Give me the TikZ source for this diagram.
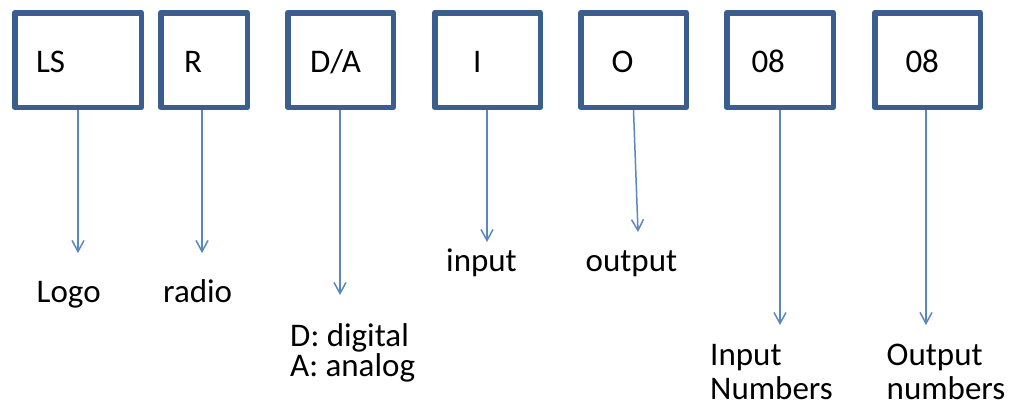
\documentclass[tikz,border=0pt]{standalone}
\usepackage{fontspec}
\setmainfont{Carlito}
\usetikzlibrary{arrows.meta}
\definecolor{boxblue}{HTML}{3A5F8E}
\definecolor{linkblue}{HTML}{5B87C0}
\begin{document}
\begin{tikzpicture}[x=1pt,y=-1pt,
  box/.style={draw=boxblue, line width=5.5pt, line join=round, rectangle, minimum height=94.5pt,
    inner xsep=0pt, inner ysep=0pt, align=left, text height=24.5pt, text depth=0pt,
    font=\fontsize{33}{36}\selectfont},
  conn/.style={draw=linkblue, line width=1.5pt, -{Straight Barb[length=11pt,width=12pt]}},
  lab/.style={anchor=base west, inner sep=0pt, align=left, font=\fontsize{33}{34}\selectfont}]
\useasboundingbox[fill=white] (0,0) rectangle (1011,408);
% boxes
\node[box, minimum width=126.5pt, text width=84pt] (bLS) at (78,60) {LS};
\node[box, minimum width=86.5pt, text width=40pt] (bR) at (204,60) {R};
\node[box, minimum width=105.5pt, text width=61pt] (bDA) at (340.5,60) {D/A};
\node[box, minimum width=105.5pt, text width=29pt] (bI) at (487.5,60) {I};
\node[box, minimum width=105.5pt, text width=44pt] (bO) at (633.5,60) {O};
\node[box, minimum width=106.5pt, text width=57pt] (bIN) at (780,60) {08};
\node[box, minimum width=105.5pt, text width=44pt] (bON) at (927.5,60) {08};
% arrow tips
\coordinate (tLS) at (78,253);
\coordinate (tR) at (202,253);
\coordinate (tDA) at (340,295);
\coordinate (tI) at (487,242);
\coordinate (tO) at (638,232);
\coordinate (tIN) at (780,325);
\coordinate (tON) at (926,325);
% connectors
\draw[conn] (bLS.south -| tLS) -- (tLS);
\draw[conn] (bR.south -| tR) -- (tR);
\draw[conn] (bDA.south -| tDA) -- (tDA);
\draw[conn] (bI.south -| tI) -- (tI);
\draw[conn] (bO.south) -- (tO);
\draw[conn] (bIN.south -| tIN) -- (tIN);
\draw[conn] (bON.south -| tON) -- (tON);
% labels (multi-line nodes: base anchor = last line's baseline)
\node[lab] (lLogo) at (36.5,302) {Logo};
\node[lab] (lRadio) at (163,302) {radio};
\node[lab, font=\fontsize{33}{30}\selectfont] (lDA) at (290,376) {D: digital\\A: analog};
\node[lab] (lIn) at (446,271) {input};
\node[lab] (lOut) at (585.5,271) {output};
\node[lab] (lInN) at (710,399) {Input\\Numbers};
\node[lab] (lOutN) at (886.5,399) {Output\\numbers};
\end{tikzpicture}
\end{document}
